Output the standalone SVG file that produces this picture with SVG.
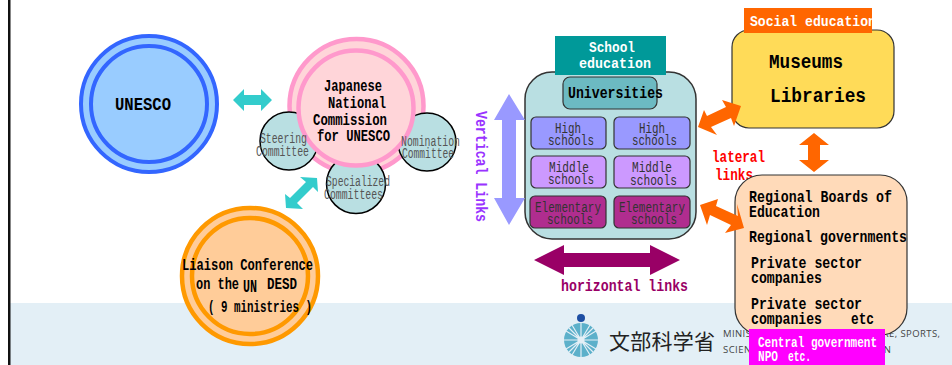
<svg xmlns="http://www.w3.org/2000/svg" width="952" height="365" viewBox="0 0 952 365">
<style>
text{font-family:"Liberation Mono","DejaVu Sans Mono",monospace;fill:#000}
.b{font-weight:bold}
.m{font-size:16px;font-weight:bold}
.c{font-size:14px;fill:#555}
.s{font-size:14px;fill:#333}
.l{font-size:16px;font-weight:bold}
.w{fill:#fff}
.sub{fill:#b9dfe2;stroke:#000;stroke-width:1.5}
.box{stroke:#333;stroke-width:1.2}
.ft{font-family:"Open Sans","Liberation Sans",sans-serif;font-size:9.5px;fill:#444}
</style>
<rect x="9" y="303" width="943" height="62" fill="#e3eff6"/>
<rect x="8" y="0" width="2.5" height="365" fill="#111"/>
<g id="logo">
<circle cx="581" cy="318" r="4" fill="#1d4ea3"/>
<circle cx="581" cy="340" r="17" fill="#5cb0ca"/>
<path d="M581 323V357M564 340H598M569 328L593 352M593 328L569 352M572 325L590 355M590 325L572 355M566 331L596 349M596 331L566 349" stroke="#e3eff6" stroke-width="1.2"/>
<circle cx="581" cy="340" r="3.5" fill="#e3eff6"/>
<text x="609" y="349" font-size="21" textLength="106" style="font-family:'Noto Sans CJK JP',sans-serif;fill:#222">文部科学省</text>
<text class="ft" x="723" y="337" textLength="217">MINISTRY OF EDUCATION, CULTURE, SPORTS,</text>
<text class="ft" x="723" y="353" textLength="168">SCIENCE AND TECHNOLOGY-JAPAN</text>
</g>
<g id="unesco">
<circle cx="149" cy="104" r="68" fill="#99ccff" stroke="#3366ff" stroke-width="4"/>
<circle cx="149" cy="104" r="58" fill="#99ccff" stroke="#3366ff" stroke-width="4"/>
<text class="b" x="115" y="110" font-size="19" textLength="56" lengthAdjust="spacingAndGlyphs">UNESCO</text>
</g>
<g id="commission">
<circle cx="356.5" cy="106" r="67" fill="#ffd5d9" stroke="#ff99cc" stroke-width="4.5"/>
</g>
<g id="steering"><circle cx="289" cy="141" r="29" class="sub"/></g>
<g id="nomination"><circle cx="427" cy="142" r="29" class="sub"/></g>
<g id="specialized"><circle cx="356" cy="184" r="29.5" class="sub"/></g>
<circle cx="356" cy="108" r="57.5" fill="#ffd5d9" stroke="#ff99cc" stroke-width="4.5"/>
<g id="labels-commission">
<text class="m" x="324" y="91" textLength="58" lengthAdjust="spacingAndGlyphs">Japanese</text>
<text class="m" x="328" y="108" textLength="58" lengthAdjust="spacingAndGlyphs">National</text>
<text class="m" x="313" y="125" textLength="74" lengthAdjust="spacingAndGlyphs">Commission</text>
<text class="m" x="317" y="141" textLength="73" lengthAdjust="spacingAndGlyphs">for UNESCO</text>
<text class="c" x="260" y="143" textLength="47" lengthAdjust="spacingAndGlyphs">Steering</text>
<text class="c" x="256" y="156" textLength="53" lengthAdjust="spacingAndGlyphs">Committee</text>
<text class="c" x="401" y="146" textLength="59" lengthAdjust="spacingAndGlyphs">Nomination</text>
<text class="c" x="402" y="158" textLength="52" lengthAdjust="spacingAndGlyphs">Committee</text>
<text class="c" x="326" y="186" textLength="64" lengthAdjust="spacingAndGlyphs">Specialized</text>
<text class="c" x="324" y="199" textLength="59" lengthAdjust="spacingAndGlyphs">Committees</text>
</g>
<g id="liaison">
<circle cx="250" cy="276" r="68" fill="#ffcc99" stroke="#ff9900" stroke-width="4.5"/>
<circle cx="250" cy="276" r="58" fill="#ffcc99" stroke="#ff9900" stroke-width="4.5"/>
<text class="m" x="182" y="270" textLength="131" lengthAdjust="spacingAndGlyphs">Liaison Conference</text>
<text class="m" x="196" y="289" textLength="43" lengthAdjust="spacingAndGlyphs">on the</text>
<text class="b" x="243" y="292" font-size="18" textLength="14" lengthAdjust="spacingAndGlyphs">UN</text>
<text class="m" x="267" y="289" textLength="30" lengthAdjust="spacingAndGlyphs">DESD</text>
<text class="m" x="208" y="312" textLength="104" lengthAdjust="spacingAndGlyphs">( 9 ministries )</text>
</g>
<g id="school">
<rect x="525" y="72" width="171" height="167" rx="27" fill="#b9dfe2" stroke="#333" stroke-width="1.5"/>
<rect x="555" y="36" width="111" height="39" fill="#009999"/>
<text class="w b" x="589" y="52" font-size="15" textLength="46" lengthAdjust="spacingAndGlyphs">School</text>
<text class="w b" x="579" y="68" font-size="15" textLength="72" lengthAdjust="spacingAndGlyphs">education</text>
<rect x="563" y="77" width="94" height="32" rx="7" fill="#6cbac2" class="box"/>
<text class="m" x="568" y="98" textLength="95" lengthAdjust="spacingAndGlyphs">Universities</text>
<g id="hs1"><rect x="531" y="117" width="75" height="32" rx="5" fill="#9999ff" class="box"/><text class="s" x="555" y="133" textLength="26" lengthAdjust="spacingAndGlyphs">High</text><text class="s" x="548" y="145" textLength="46" lengthAdjust="spacingAndGlyphs">schools</text></g>
<g id="hs2"><rect x="614" y="117" width="76" height="32" rx="5" fill="#9999ff" class="box"/><text class="s" x="639" y="133" textLength="26" lengthAdjust="spacingAndGlyphs">High</text><text class="s" x="632" y="145" textLength="45" lengthAdjust="spacingAndGlyphs">schools</text></g>
<g id="ms1"><rect x="531" y="156" width="75" height="32" rx="5" fill="#cc99ff" class="box"/><text class="s" x="549" y="172" textLength="40" lengthAdjust="spacingAndGlyphs">Middle</text><text class="s" x="548" y="184" textLength="46" lengthAdjust="spacingAndGlyphs">schools</text></g>
<g id="ms2"><rect x="614" y="156" width="76" height="32" rx="5" fill="#cc99ff" class="box"/><text class="s" x="632" y="172" textLength="40" lengthAdjust="spacingAndGlyphs">Middle</text><text class="s" x="630" y="185" textLength="47" lengthAdjust="spacingAndGlyphs">schools</text></g>
<g id="es1"><rect x="530" y="196" width="76" height="32" rx="5" fill="#b02d8f" class="box"/><text class="s" x="535" y="212" textLength="66" lengthAdjust="spacingAndGlyphs">Elementary</text><text class="s" x="547" y="224" textLength="46" lengthAdjust="spacingAndGlyphs">schools</text></g>
<g id="es2"><rect x="614" y="196" width="76" height="32" rx="5" fill="#b02d8f" class="box"/><text class="s" x="619" y="212" textLength="66" lengthAdjust="spacingAndGlyphs">Elementary</text><text class="s" x="631" y="224" textLength="46" lengthAdjust="spacingAndGlyphs">schools</text></g>
</g>
<text class="m" style="fill:#9933ff" transform="translate(476 111) rotate(90)" textLength="111" lengthAdjust="spacingAndGlyphs">Vertical Links</text>
<text class="m" x="561" y="291" textLength="127" lengthAdjust="spacingAndGlyphs" style="fill:#990066">horizontal links</text>
<text class="m" x="712" y="162" textLength="53" lengthAdjust="spacingAndGlyphs" style="fill:#ff0000">lateral</text>
<text class="m" x="715" y="180" textLength="38" lengthAdjust="spacingAndGlyphs" style="fill:#ff0000">links</text>
<g id="social">
<rect x="732" y="30" width="162" height="98" rx="17" fill="#ffdb58" stroke="#333" stroke-width="1.2"/>
<rect x="744" y="8" width="128" height="25" fill="#ff6600"/>
<svg x="744" y="8" width="128" height="25"><text class="w b" x="6" y="18" font-size="15" textLength="126" lengthAdjust="spacingAndGlyphs">Social education</text></svg>
<text x="769" y="68" font-size="20" font-weight="bold" textLength="74" lengthAdjust="spacingAndGlyphs">Museums</text>
<text x="770" y="102" font-size="20" font-weight="bold" textLength="96" lengthAdjust="spacingAndGlyphs">Libraries</text>
</g>
<g id="regional">
<rect x="735" y="175" width="172" height="160" rx="27" fill="#ffdab9" stroke="#333" stroke-width="1.2"/>
<text class="l" x="749" y="202" textLength="143" lengthAdjust="spacingAndGlyphs">Regional Boards of</text>
<text class="l" x="749" y="217" textLength="71" lengthAdjust="spacingAndGlyphs">Education</text>
<text class="l" x="749" y="242" textLength="158" lengthAdjust="spacingAndGlyphs">Regional governments</text>
<text class="l" x="751" y="268" textLength="111" lengthAdjust="spacingAndGlyphs">Private sector</text>
<text class="l" x="751" y="283" textLength="71" lengthAdjust="spacingAndGlyphs">companies</text>
<text class="l" x="751" y="309" textLength="111" lengthAdjust="spacingAndGlyphs">Private sector</text>
<text class="l" x="751" y="324" textLength="71" lengthAdjust="spacingAndGlyphs">companies</text>
<text class="l" x="851" y="324" textLength="23" lengthAdjust="spacingAndGlyphs">etc</text>
<rect x="749" y="329" width="136" height="36" fill="#ff00ff"/>
<text class="w b" x="758" y="347" font-size="14" textLength="119" lengthAdjust="spacingAndGlyphs">Central government</text>
<text class="w b" x="758" y="361" font-size="14" textLength="20" lengthAdjust="spacingAndGlyphs">NPO</text>
<text class="w b" x="788" y="361" font-size="14" textLength="23" lengthAdjust="spacingAndGlyphs">etc.</text>
</g>
<g id="connectors">
<path id="c1" d="M233 100L244 89V95H261V89L272 100L261 111V105H244V111Z" fill="#33cccc"/>
<path id="c2" d="M300 177L317 178L318 192L313 187L297 203L303 209L286 208L285 194L290 198L306 182Z" fill="#33cccc"/>
<path id="c3" d="M509 94L525 120H516V198H525L509 225L494 198H502V120H494Z" fill="#9999ff"/>
<path id="c4" d="M534 260L564 245V253H650V245L680 260L650 275V267H564V275Z" fill="#990066"/>
<path id="c6" d="M698 127L704 110L707 116L726 107L722 100L741 106L734 126L731 118L711 127L717 135Z" fill="#ff6600"/>
<path id="c7" d="M814 133L829 145H820V160H829L814 172L799 160H808V145H799Z" fill="#ff6600"/>
<path id="c8" d="M700 205L718 199L716 206L738 216L737 204L744 228L725 233L731 225L710 215L707 225Z" fill="#ff6600"/>
</g>
</svg>
